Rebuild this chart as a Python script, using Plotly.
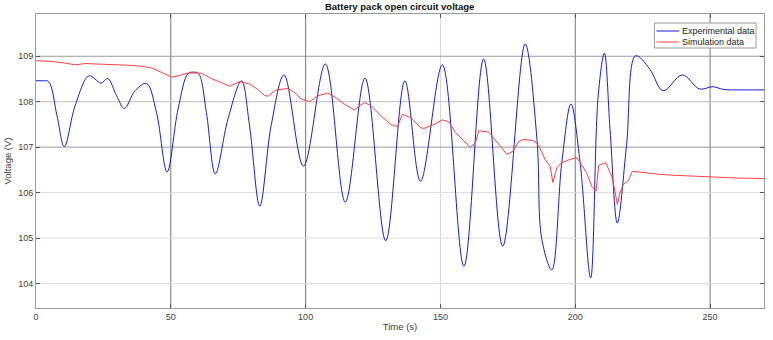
import plotly.graph_objects as go

# Experimental data (time s, voltage V)
exp_t = [0, 2.5, 4.7, 7.8, 10.5, 14.5, 19.7, 24.1, 26.6, 29.9, 32.8, 36.7, 41.0, 44.7,
         48.6, 52.7, 56.4, 58.5, 60.3, 63.2, 66.5, 71.2, 76.2, 79.2, 83.0, 87.2, 92.0,
         99.2, 107.3, 114.7, 122.0, 129.7, 136.8, 142.6, 150.7, 158.7, 166.0, 173.1,
         181.4, 185.8, 187.6, 191.3, 195.0, 198.4, 201.8, 205.7, 208.5, 210.8, 212.9,
         215.6, 219.0, 222.4, 227.6, 232.6, 239.7, 246.1, 251.0, 255, 262, 270]
exp_v = [108.46, 108.46, 108.44, 107.69, 107.01, 107.91, 108.57, 108.41, 108.51, 108.13,
         107.85, 108.24, 108.40, 107.76, 106.45, 107.84, 108.62, 108.65, 108.62, 107.76,
         106.41, 107.62, 108.46, 107.47, 105.70, 107.47, 108.59, 106.58, 108.83, 105.79,
         108.52, 104.94, 108.46, 106.25, 108.81, 104.38, 108.94, 104.82, 109.27, 107.17,
         104.97, 104.30, 106.66, 107.95, 106.66, 104.12, 108.13, 109.07, 107.39, 105.33,
         107.03, 109.01, 108.72, 108.24, 108.59, 108.28, 108.33, 108.27, 108.26, 108.26]

# Simulation data (time s, voltage V)
sim_t = [0, 5, 10.8, 14.5, 18.2, 24, 29.3, 35, 39.2, 43, 45.3, 48, 50.3, 52.7, 56.4, 61.3,
         65, 68.7, 71.8, 75.5, 79.2, 82, 84.7, 86, 89, 93.4, 96, 98.3, 101.4, 104.5, 108.2,
         111.2, 114.3, 118, 121.7, 124.2, 127.9, 131.6, 134, 135.9, 139, 142.6, 143.9, 147.6,
         150.7, 153.1, 155.6, 158.7, 161.1, 163, 164.2, 167.9, 171, 174.7, 177.1, 179, 180.8,
         184.5, 186.4, 188.8, 190.7, 191.7, 193.2, 195, 198.1, 200.5, 201.8, 204.2, 206.1,
         207.7, 208.7, 211.3, 213.5, 214.5, 215.6, 216.6, 217.8, 219.6, 221.2, 225.2, 231.3,
         237, 243.7, 249.8, 260, 270]
sim_v = [108.90, 108.89, 108.85, 108.81, 108.84, 108.83, 108.82, 108.80, 108.78, 108.74,
         108.68, 108.60, 108.54, 108.57, 108.63, 108.63, 108.51, 108.42, 108.34, 108.44,
         108.39, 108.28, 108.14, 108.12, 108.26, 108.29, 108.20, 108.06, 108.00, 108.13,
         108.19, 108.09, 107.95, 107.82, 107.98, 107.92, 107.69, 107.50, 107.45, 107.72,
         107.65, 107.43, 107.41, 107.50, 107.60, 107.56, 107.32, 107.14, 106.99, 107.10,
         107.36, 107.33, 107.10, 106.84, 106.92, 107.12, 107.17, 107.14, 107.04, 106.73,
         106.58, 106.22, 106.55, 106.66, 106.73, 106.77, 106.66, 106.44, 106.14, 106.03,
         106.60, 106.66, 106.36, 106.10, 105.74, 106.00, 106.18, 106.25, 106.47, 106.44,
         106.40, 106.38, 106.36, 106.34, 106.32, 106.31]

series_names = ["Experimental data", "Simulation data"]
series_colors = ["#1a1ad6", "#ff4040"]

x_ticks = [0, 50, 100, 150, 200, 250]
y_ticks = [104, 105, 106, 107, 108, 109]
x_dark = [50, 100, 200, 250]
y_dark = {107: "#9a9a9a", 109: "#9a9a9a", 108: "#bdbdbd"}

FONT = "Liberation Sans"
W, H = 773, 340
ML, MR, MT, MB = 34, 8, 14, 32
PW, PH = W - ML - MR, H - MT - MB


def px_x(p):
    return (p - ML) / PW


def px_y(p):
    return 1 - (p - MT) / PH


fig = go.Figure()
fig.add_trace(go.Scatter(x=exp_t, y=exp_v, mode="lines", name=series_names[0],
                         line=dict(color=series_colors[0], width=1, shape="spline", smoothing=1)))
fig.add_trace(go.Scatter(x=sim_t, y=sim_v, mode="lines", name=series_names[1],
                         line=dict(color=series_colors[1], width=1)))

shapes = []
for xv in x_ticks[1:]:
    col = "#777777" if xv in x_dark else "#d4d4d4"
    shapes.append(dict(type="line", xref="x", yref="paper", x0=xv, x1=xv, y0=0, y1=1,
                       line=dict(color=col, width=1), layer="below"))
for yv in y_ticks:
    col = y_dark.get(yv, "#dcdcdc")
    shapes.append(dict(type="line", xref="paper", yref="y", x0=0, x1=1, y0=yv, y1=yv,
                       line=dict(color=col, width=1), layer="below"))

# manual legend box (MATLAB style)
annotations = []
shapes.append(dict(type="rect", xref="paper", yref="paper",
                   x0=px_x(655), x1=px_x(757), y0=px_y(48), y1=px_y(23),
                   fillcolor="white", line=dict(color="#9a9a9a", width=1), layer="above"))
for i, (nm, col) in enumerate(zip(series_names, series_colors)):
    yy = px_y(31 + 11 * i)
    shapes.append(dict(type="line", xref="paper", yref="paper",
                       x0=px_x(657), x1=px_x(680), y0=yy, y1=yy,
                       line=dict(color=col, width=1), layer="above"))
    annotations.append(dict(text=nm, xref="paper", yref="paper", x=px_x(681), y=yy,
                            xanchor="left", yanchor="middle", showarrow=False,
                            font=dict(family=FONT, size=9, color="#222222")))

fig.update_layout(
    width=W, height=H,
    margin=dict(l=ML, r=MR, t=MT, b=MB),
    paper_bgcolor="white", plot_bgcolor="white",
    font=dict(family=FONT, size=9, color="#404040"),
    title=dict(text="<b>Battery pack open circuit voltage</b>", x=0.517, xanchor="center",
               y=0.979, yanchor="middle", yref="container",
               font=dict(family=FONT, size=9.5, color="#111111")),
    showlegend=False,
    shapes=shapes,
    annotations=annotations,
    xaxis=dict(range=[0, 270], tickvals=x_ticks, showgrid=False, zeroline=False,
               ticks="inside", ticklen=4, tickcolor="#555555", mirror="ticks",
               showline=True, linecolor="#9a9a9a", linewidth=1,
               title=dict(text="Time (s)", standoff=2, font=dict(size=9.5))),
    yaxis=dict(range=[103.46, 109.93], tickvals=y_ticks, showgrid=False, zeroline=False,
               ticks="inside", ticklen=4, tickcolor="#555555", mirror="ticks",
               showline=True, linecolor="#9a9a9a", linewidth=1,
               title=dict(text="Voltage (V)", standoff=4, font=dict(size=9.5))),
)

fig.write_html("out.html")
